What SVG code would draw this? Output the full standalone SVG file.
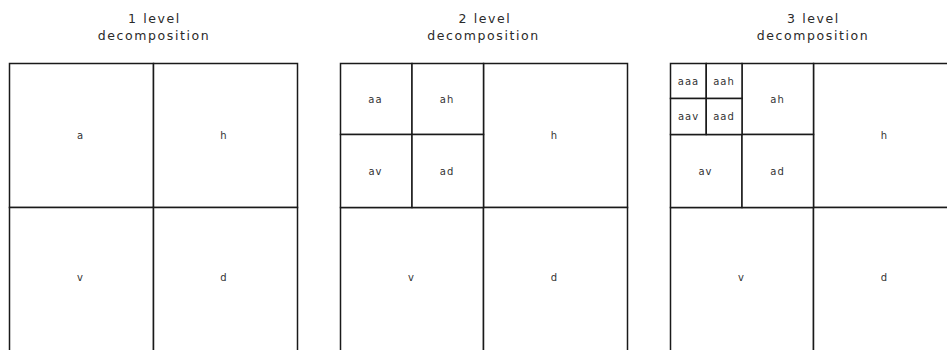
<svg xmlns="http://www.w3.org/2000/svg" width="947" height="350" viewBox="0 0 947 350">
<style>
  .cell { fill: #ffffff; stroke: #1a1a1a; stroke-width: 1.5; }
  .title { font-family: "DejaVu Sans", Verdana, sans-serif; font-size: 12.5px; letter-spacing: 1.6px; fill: #2a2a2a; text-anchor: middle; }
  .lbl { font-family: "DejaVu Sans", Verdana, sans-serif; font-size: 10px; letter-spacing: 1px; fill: #333333; text-anchor: middle; }
</style>
<rect x="0" y="0" width="947" height="350" fill="#ffffff"/>

<g id="titles">
  <text class="title" x="154.5" y="23.3">1 level</text>
  <text class="title" x="154" y="40">decomposition</text>
  <text class="title" x="485" y="23.3">2 level</text>
  <text class="title" x="483.5" y="40">decomposition</text>
  <text class="title" x="813.5" y="23.3">3 level</text>
  <text class="title" x="813" y="40">decomposition</text>
</g>

<!-- Panel 1 -->
<g id="p1">
  <g id="p1-a"><rect class="cell" x="9.5" y="63.5" width="144" height="144"/><text class="lbl" x="80.5" y="138.5">a</text></g>
  <g id="p1-h"><rect class="cell" x="153.5" y="63.5" width="144" height="144"/><text class="lbl" x="224" y="138.5">h</text></g>
  <g id="p1-v"><rect class="cell" x="9.5" y="207.5" width="144" height="144"/><text class="lbl" x="80.5" y="281">v</text></g>
  <g id="p1-d"><rect class="cell" x="153.5" y="207.5" width="144" height="144"/><text class="lbl" x="224" y="281">d</text></g>
</g>

<!-- Panel 2 -->
<g id="p2">
  <g id="p2-h"><rect class="cell" x="483.5" y="63.5" width="144" height="144"/><text class="lbl" x="554.5" y="138.5">h</text></g>
  <g id="p2-v"><rect class="cell" x="340.5" y="207.5" width="143" height="144"/><text class="lbl" x="411.5" y="281">v</text></g>
  <g id="p2-d"><rect class="cell" x="483.5" y="207.5" width="144" height="144"/><text class="lbl" x="554.5" y="281">d</text></g>
  <g id="p2-aa"><rect class="cell" x="340.5" y="63.5" width="71.5" height="71"/><text class="lbl" x="375.5" y="102.5">aa</text></g>
  <g id="p2-ah"><rect class="cell" x="412" y="63.5" width="71.5" height="71"/><text class="lbl" x="447" y="102.5">ah</text></g>
  <g id="p2-av"><rect class="cell" x="340.5" y="134.5" width="71.5" height="73"/><text class="lbl" x="375.5" y="174.5">av</text></g>
  <g id="p2-ad"><rect class="cell" x="412" y="134.5" width="71.5" height="73"/><text class="lbl" x="447" y="174.5">ad</text></g>
</g>

<!-- Panel 3 -->
<g id="p3">
  <g id="p3-h"><rect class="cell" x="813.5" y="63.5" width="144" height="144"/><text class="lbl" x="884.5" y="138.5">h</text></g>
  <g id="p3-v"><rect class="cell" x="670.5" y="207.5" width="143" height="144"/><text class="lbl" x="741.5" y="281">v</text></g>
  <g id="p3-d"><rect class="cell" x="813.5" y="207.5" width="144" height="144"/><text class="lbl" x="884.5" y="281">d</text></g>
  <g id="p3-ah"><rect class="cell" x="742" y="63.5" width="71.5" height="71"/><text class="lbl" x="777.5" y="102.5">ah</text></g>
  <g id="p3-av"><rect class="cell" x="670.5" y="134.5" width="71.5" height="73"/><text class="lbl" x="705.5" y="174.5">av</text></g>
  <g id="p3-ad"><rect class="cell" x="742" y="134.5" width="71.5" height="73"/><text class="lbl" x="777.5" y="174.5">ad</text></g>
  <g id="p3-aaa"><rect class="cell" x="670.5" y="63.5" width="35.75" height="35"/><text class="lbl" x="688.5" y="84.5">aaa</text></g>
  <g id="p3-aah"><rect class="cell" x="706.25" y="63.5" width="35.75" height="35"/><text class="lbl" x="724" y="84.5">aah</text></g>
  <g id="p3-aav"><rect class="cell" x="670.5" y="98.5" width="35.75" height="36"/><text class="lbl" x="688.5" y="119.5">aav</text></g>
  <g id="p3-aad"><rect class="cell" x="706.25" y="98.5" width="35.75" height="36"/><text class="lbl" x="724" y="119.5">aad</text></g>
</g>
</svg>
